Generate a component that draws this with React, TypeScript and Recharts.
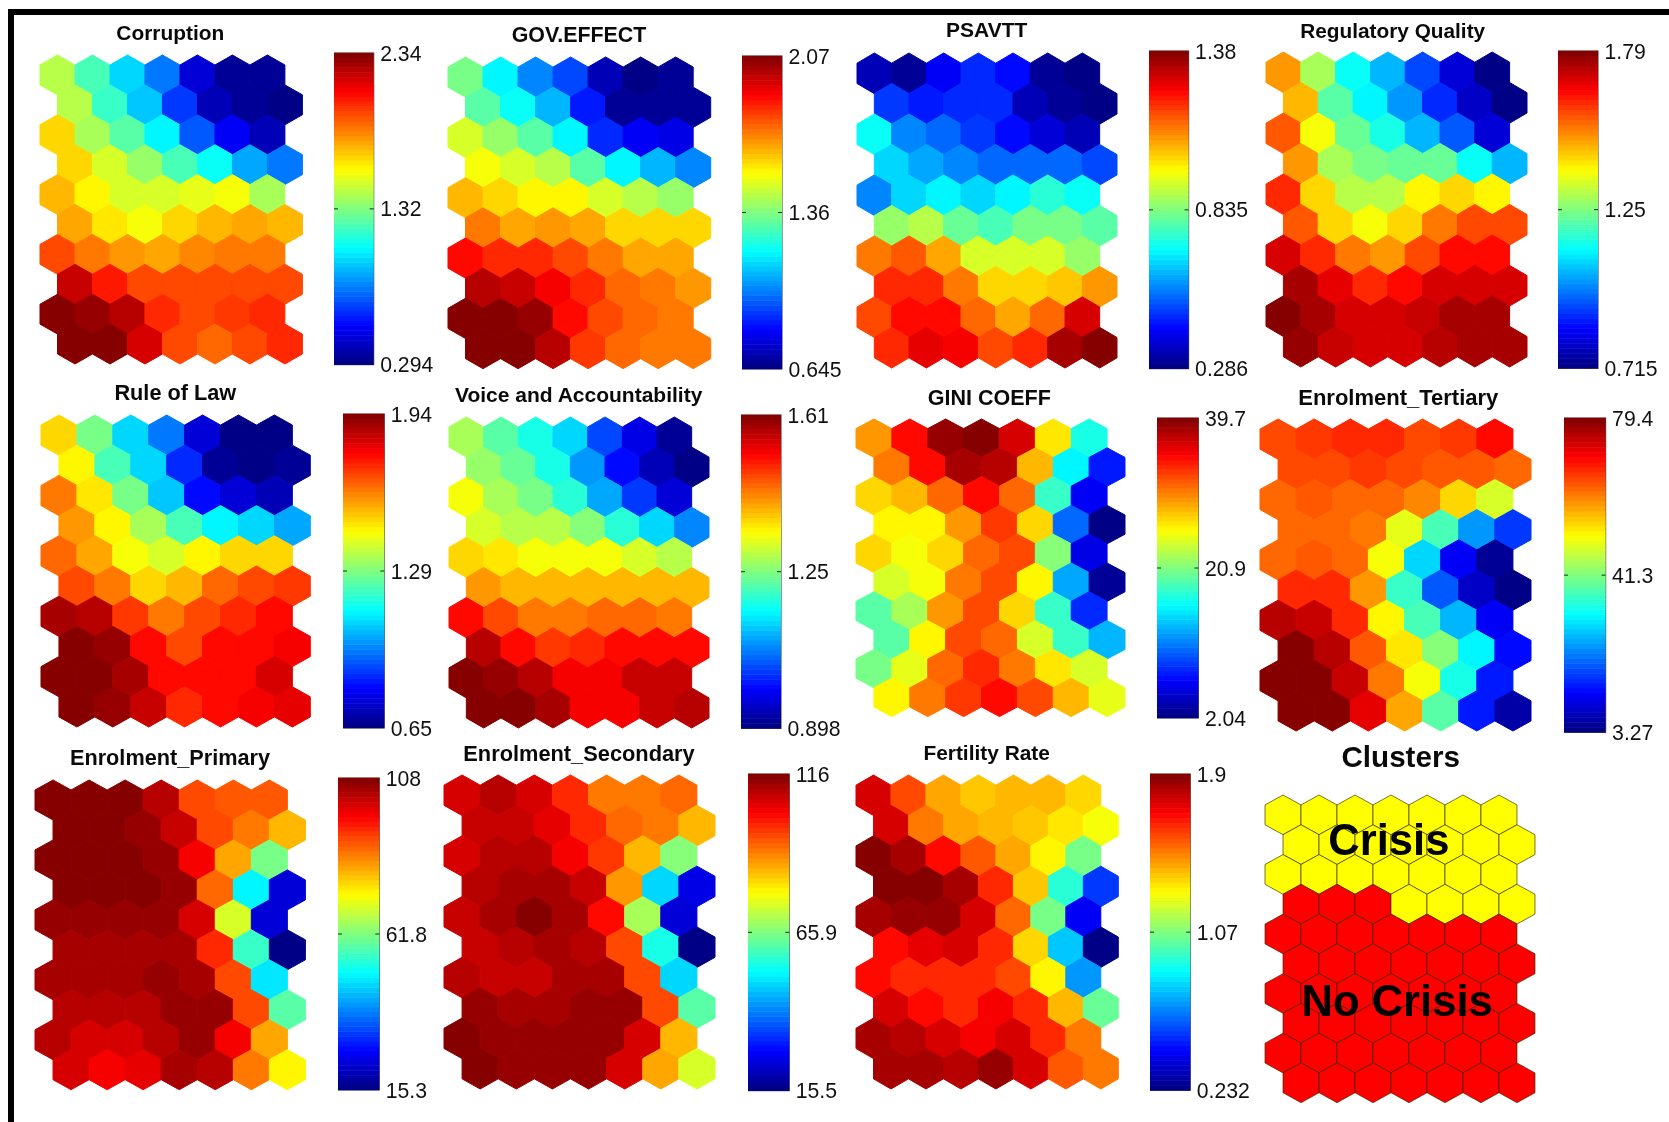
import React from "react";
import { ScatterChart, Scatter, XAxis, YAxis, ReferenceArea, ReferenceDot } from "recharts";

// Each list holds ten rows of seven map nodes, as the position on the colour bar in percent.
const corruption = [[55,45,34,24,8,2,2],[56,43,32,18,5,2,1],[66,54,46,37,21,12,6],[66,58,53,45,38,29,24],[70,64,58,58,60,61,54],[71,65,62,66,70,71,70],[81,76,73,71,74,75,75],[93,85,80,80,81,81,81],[99,98,94,84,81,82,84],[100,99,91,80,78,81,84]];
const govEffect = [[49,37,26,19,5,0,2],[46,39,31,15,3,3,3],[58,53,46,36,17,11,10],[62,58,55,46,36,31,26],[70,67,63,63,59,55,53],[75,71,72,71,66,66,66],[87,84,83,80,75,71,71],[95,93,89,83,78,75,73],[99,99,98,87,81,78,76],[100,100,95,82,77,76,75]];
const psavtt = [[5,2,12,17,13,2,1],[18,15,17,16,6,2,1],[38,26,22,18,13,9,6],[33,29,25,22,22,22,19],[25,34,37,34,36,42,39],[53,56,47,45,49,49,46],[76,79,71,59,58,58,53],[83,84,76,66,66,68,73],[80,86,86,78,71,78,92],[84,90,89,80,83,96,100]];
const regulatoryQuality = [[73,54,39,31,19,8,1],[69,46,36,27,17,7,1],[79,62,47,40,31,21,9],[73,54,49,47,47,39,30],[84,67,55,55,64,67,64],[79,67,62,67,76,80,80],[91,84,76,73,81,86,86],[96,90,84,86,91,91,91],[100,96,91,91,93,96,96],[98,93,91,92,94,96,96]];
const ruleOfLaw = [[67,49,34,24,9,1,1],[64,45,33,17,2,1,2],[76,65,49,32,13,8,6],[73,63,54,45,37,34,29],[78,71,62,59,63,67,66],[81,75,66,70,78,81,82],[96,94,82,75,80,84,87],[100,97,87,81,86,87,89],[100,100,96,87,86,87,91],[100,98,93,84,86,88,90]];
const voiceAccountability = [[54,46,40,33,19,10,2],[53,47,40,28,14,6,1],[62,54,49,42,29,18,9],[58,56,56,50,42,33,26],[67,65,62,62,62,58,55],[73,70,69,70,70,70,70],[86,81,76,76,77,77,76],[95,87,82,84,87,86,86],[100,97,94,89,89,93,93],[99,100,96,89,89,93,95]];
const giniCoeff = [[73,86,98,100,91,65,40],[75,87,96,94,69,37,15],[66,70,78,87,78,43,12],[63,63,73,82,67,22,1],[67,62,67,78,80,50,10],[58,62,75,81,63,29,2],[46,54,72,81,67,43,17],[46,64,80,77,58,43,31],[49,60,77,84,76,65,59],[64,75,82,86,81,70,60]];
const enrolmentTertiary = [[80,82,84,84,81,82,87],[80,80,82,81,79,79,77],[77,79,78,77,74,67,58],[77,78,75,60,45,28,18],[77,79,77,61,33,11,2],[84,83,72,43,21,7,0],[95,93,83,63,45,31,12],[99,95,79,65,51,36,13],[99,100,93,76,62,40,15],[100,100,90,71,46,15,4]];
const enrolmentPrimary = [[100,100,100,95,81,79,79],[100,100,98,93,81,75,69],[99,100,100,98,89,71,49],[99,99,99,98,78,37,9],[98,98,98,98,91,59,8],[96,96,96,96,84,43,1],[96,96,96,97,96,80,35],[94,94,95,98,97,80,46],[95,92,92,95,98,89,71],[91,88,90,96,94,75,63]];
const enrolmentSecondary = [[91,94,92,84,75,76,78],[93,93,90,83,77,75,69],[91,94,94,89,82,70,50],[95,96,96,93,73,34,10],[93,96,99,96,86,54,9],[93,95,96,94,80,40,1],[95,93,93,96,96,80,34],[98,96,96,98,98,81,46],[100,98,97,97,98,91,69],[99,98,98,98,91,71,59]];
const fertilityRate = [[91,80,71,68,70,70,67],[91,76,71,70,68,65,61],[100,96,87,79,71,63,49],[100,99,96,84,68,42,18],[96,98,98,91,78,49,12],[87,90,92,83,67,32,1],[87,84,84,84,80,63,28],[91,87,84,88,83,70,47],[96,95,92,89,92,84,75],[96,96,95,98,91,79,75]];
// 1 = Crisis, 0 = No Crisis
const clusters = [[1,1,1,1,1,1,1],[1,1,1,1,1,1,1],[1,1,1,1,1,1,1],[0,0,0,1,1,1,1],[0,0,0,0,0,0,0],[0,0,0,0,0,0,0],[0,0,0,0,0,0,0],[0,0,0,0,0,0,0],[0,0,0,0,0,0,0],[0,0,0,0,0,0,0]];

const titles = ["Corruption","GOV.EFFECT","PSAVTT","Regulatory Quality","Rule of Law","Voice and Accountability","GINI COEFF","Enrolment_Tertiary","Enrolment_Primary","Enrolment_Secondary","Fertility Rate"];
const maps = [corruption,govEffect,psavtt,regulatoryQuality,ruleOfLaw,voiceAccountability,giniCoeff,enrolmentTertiary,enrolmentPrimary,enrolmentSecondary,fertilityRate];
const barTicks = [[0.294,1.32,2.34],[0.645,1.36,2.07],[0.286,0.835,1.38],[0.715,1.25,1.79],[0.65,1.29,1.94],[0.898,1.25,1.61],[2.04,20.9,39.7],[3.27,41.3,79.4],[15.3,61.8,108],[15.5,65.9,116],[0.232,1.07,1.9]];

// layout, in page pixels: left, right, top, bottom
const mapBoxes = [[39.8,302.2,54.5,363.5],[447.8,710.5,56.5,368.2],[857.2,1117.2,52.5,367.5],[1265.5,1526.5,52.2,367.2],[40.5,309.8,414.5,726.5],[448.8,708.8,416.5,727.5],[855.5,1124.5,419.2,716.8],[1259.8,1530.8,418.8,730.8],[34.8,305.2,779.5,1089.2],[443.5,714.5,775.2,1089.2],[855.5,1117.8,775.2,1089.2]];
const barBoxes = [[334.3,374,53.3,365],[742.3,782.3,56,369],[1148.7,1188.3,51,368.7],[1558,1598,51,368.3],[342.7,384,413.7,727.7],[740.7,780.7,415.3,728.7],[1157.3,1198.7,418,718],[1563.7,1605.3,417.7,732],[338,379.3,778.3,1090.3],[748,789.3,774,1090.7],[1150,1190.3,774,1090.3]];
const titleSpots = [[170.3,33],[579,35],[986.7,30],[1392.7,30.7],[175.3,393],[578.7,395],[989.3,398.3],[1398.3,397.7],[170,758.3],[579,754],[986.7,753.3]];
const titleSizes = [20.9,21.4,21,20.8,21.7,21,21.5,22,21.7,21.8,20.9];
const clusterBox = [1265,1535,795,1102.7];

const FONT = "'Liberation Sans', Arial, sans-serif";
const STEPS = 64;

function jet(p: number) {
  const x = (Math.min(STEPS - 1, Math.floor((p / 100) * STEPS)) + 0.5) / STEPS;
  const c = (v: number) => Math.round(255 * Math.max(0, Math.min(1, v)));
  const r = c(Math.min(4 * x - 1.5, -4 * x + 4.5));
  const g = c(Math.min(4 * x - 0.5, -4 * x + 3.5));
  const b = c(Math.min(4 * x + 0.5, -4 * x + 2.5));
  return `rgb(${r},${g},${b})`;
}

const toNodes = (rows: number[][]) =>
  rows.flatMap((row, r) => row.map((value, c) => ({ col: c + (r % 2) * 0.5, row: r, value })));

function hexPath(cx: number, cy: number, hw: number, rad: number) {
  return `M${cx},${cy - rad}L${cx + hw},${cy - rad / 2}L${cx + hw},${cy + rad / 2}L${cx},${cy + rad}L${cx - hw},${cy + rad / 2}L${cx - hw},${cy - rad / 2}Z`;
}

function HexMap({ rows, box, colour, stroke, strokeWidth, children }: any) {
  const [l, r, t, b] = box;
  const w = r - l;
  const h = b - t;
  const hw = w / 15;
  const rad = (h / 10.3333) * (2 / 3);
  const shape = (p: any) => {
    const fill = colour(p.payload.value);
    return <path d={hexPath(p.cx, p.cy, hw, rad)} fill={fill} stroke={stroke ?? fill} strokeWidth={strokeWidth ?? 1} />;
  };
  return (
    <div style={{ position: "absolute", left: l - 3, top: t - 3 }}>
      <ScatterChart width={w + 6} height={h + 6} margin={{ left: 3, right: 3, top: 3, bottom: 3 }}>
        <XAxis type="number" dataKey="col" domain={[-0.5, 7]} hide />
        <YAxis type="number" dataKey="row" domain={[-2 / 3, 9 + 2 / 3]} reversed hide />
        <Scatter data={toNodes(rows)} shape={shape} isAnimationActive={false} />
        {children}
      </ScatterChart>
    </div>
  );
}

function ColourBar({ labels, box }: any) {
  const [l, r, t, b] = box;
  const w = r - l;
  const h = b - t;
  const [min, midLabel, max] = labels;
  const mid = (min + max) / 2;
  const levels = Array.from({ length: STEPS }, (_, i) => ({
    x: 0.5,
    v: min + ((i + 0.5) / STEPS) * (max - min),
    p: ((i + 0.5) / STEPS) * 100,
  }));
  const step = h / STEPS;
  const shape = (p: any) => (
    <rect x={p.cx - w / 2} y={p.cy - step / 2 - 0.25} width={w} height={step + 0.5} fill={jet(p.payload.p)} />
  );
  const tick = (p: any) => {
    const v = p.payload.value;
    return (
      <g>
        {v === mid && <path d={`M${p.x},${p.y}h-4M${p.x - w},${p.y}h4`} stroke="#222" strokeWidth={1} />}
        <text x={p.x + 6.5} y={p.y} dy="0.36em" textAnchor="start" fontFamily={FONT} fontSize={21.2} fill="#111">
          {v === mid ? midLabel : v}
        </text>
      </g>
    );
  };
  return (
    <div style={{ position: "absolute", left: l, top: t - 16 }}>
      <ScatterChart width={w + 75} height={h + 32} margin={{ left: 0, right: 0, top: 16, bottom: 16 }}>
        <XAxis type="number" dataKey="x" domain={[0, 1]} hide />
        <YAxis
          type="number"
          dataKey="v"
          orientation="right"
          width={75}
          domain={[min, max]}
          ticks={[min, mid, max]}
          interval={0}
          axisLine={false}
          tickLine={false}
          tickSize={0}
          tickMargin={0}
          tick={tick}
        />
        <Scatter data={levels} shape={shape} isAnimationActive={false} />
        <ReferenceArea x1={0} x2={1} y1={min} y2={max} fill="none" fillOpacity={0} stroke="#555" strokeWidth={1.2} />
      </ScatterChart>
    </div>
  );
}

function Title({ text, spot, size }: any) {
  return (
    <div
      style={{
        position: "absolute",
        left: spot[0] - 200,
        top: spot[1] - 20,
        width: 400,
        height: 40,
        lineHeight: "40px",
        textAlign: "center",
        fontFamily: FONT,
        fontWeight: 700,
        fontSize: size,
        color: "#0a0a0a",
        whiteSpace: "nowrap",
      }}
    >
      {text}
    </div>
  );
}

const bigLabel = { fontFamily: FONT, fontWeight: 700, fontSize: 43.6, fill: "#000" };

export default function App() {
  return (
    <div style={{ position: "absolute", left: 0, top: 0, width: 1669, height: 1122, background: "#fff", overflow: "hidden", filter: "blur(0.4px)" }}>
      <div style={{ position: "absolute", left: 8, top: 9, width: 6, height: 1113, background: "#000" }} />
      <div style={{ position: "absolute", left: 8, top: 9, width: 1661, height: 6, background: "#000" }} />
      {maps.map((rows, i) => (
        <React.Fragment key={titles[i]}>
          <Title text={titles[i]} spot={titleSpots[i]} size={titleSizes[i]} />
          <HexMap rows={rows} box={mapBoxes[i]} colour={jet} />
          <ColourBar labels={barTicks[i]} box={barBoxes[i]} />
        </React.Fragment>
      ))}
      <Title text="Clusters" spot={[1400.7, 757.3]} size={29.6} />
      <HexMap rows={clusters} box={clusterBox} colour={(v: number) => (v ? "#ffff00" : "#ff0000")} stroke="rgba(50,40,0,0.65)" strokeWidth={1}>
        <ReferenceDot x={2.94} y={0.84} r={0} fill="none" stroke="none" label={{ value: "Crisis", position: "center", ...bigLabel }} />
        <ReferenceDot x={3.17} y={6.25} r={0} fill="none" stroke="none" label={{ value: "No Crisis", position: "center", ...bigLabel }} />
      </HexMap>
    </div>
  );
}
